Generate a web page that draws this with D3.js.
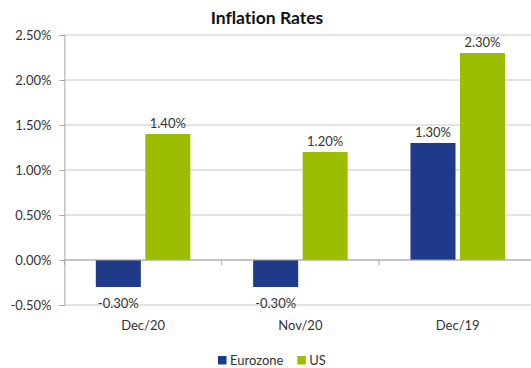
<!DOCTYPE html>
<html>
<head>
<meta charset="utf-8">
<script src="https://cdn.jsdelivr.net/npm/d3@7/dist/d3.min.js"></script>
<style>
  html, body { margin: 0; padding: 0; background: #fff; }
  svg { display: block; font-family: Lato, "Open Sans", sans-serif; font-variant-ligatures: none; font-feature-settings: "liga" 0, "dlig" 0; }
</style>
</head>
<body>
<svg id="chart" width="531" height="368"></svg>
<script>
// Inflation rates (percent) by month
const categories = ["Dec/20", "Nov/20", "Dec/19"];
const seriesNames = ["Eurozone", "US"];
const eurozone = [-0.30, -0.30, 1.30];
const us = [1.40, 1.20, 2.30];
const yTicks = [-0.5, 0, 0.5, 1.0, 1.5, 2.0, 2.5];
const colors = ["#1F3A89", "#9CBE00"];

const seriesValues = [eurozone, us];
const svg = d3.select("#chart");

const x0 = d3.scaleBand().domain(categories).range([64.4, 536.4]).paddingInner(0).paddingOuter(0);
const x1 = d3.scaleBand().domain(seriesNames).range([31.4, x0.bandwidth() - 31.4]).paddingInner(0.09);
const y = d3.scaleLinear().domain([-0.5, 2.5]).range([305, 35]);

const fmt = v => v.toFixed(2) + "%";

// Horizontal gridlines
svg.append("g").selectAll("line").data(yTicks).join("line")
  .attr("x1", 64.4).attr("x2", 536).attr("y1", d => y(d)).attr("y2", d => y(d))
  .attr("stroke", "#C8C8C8").attr("stroke-width", 1);

// Y axis
const yAxis = svg.append("g").attr("transform", "translate(64.4,0)")
  .call(d3.axisLeft(y).tickValues(yTicks).tickFormat(fmt).tickSize(5).tickPadding(8));
yAxis.select(".domain").attr("stroke", "#A6A6A6");
yAxis.selectAll(".tick line").attr("stroke", "#A6A6A6");
yAxis.selectAll("text").attr("font-size", 13).attr("fill", "#333").attr("font-family", "Lato, sans-serif");

// Bars
const groups = svg.append("g").selectAll("g").data(categories).join("g")
  .attr("transform", d => `translate(${x0(d)},0)`);

groups.selectAll("rect")
  .data((c, i) => seriesNames.map((s, j) => ({ s, v: seriesValues[j][i], j })))
  .join("rect")
  .attr("x", d => x1(d.s))
  .attr("width", x1.bandwidth())
  .attr("y", d => y(Math.max(0, d.v)))
  .attr("height", d => Math.abs(y(d.v) - y(0)))
  .attr("fill", d => colors[d.j]);

// Value labels
groups.selectAll("text.val")
  .data((c, i) => seriesNames.map((s, j) => ({ s, v: seriesValues[j][i], j })))
  .join("text")
  .attr("class", "val")
  .attr("x", d => x1(d.s) + x1.bandwidth() / 2)
  .attr("y", d => d.v >= 0 ? y(d.v) - 6 : 308)
  .attr("text-anchor", "middle")
  .attr("font-size", 13)
  .attr("fill", "#333")
  .text(d => fmt(d.v));

// X axis at zero
const xAxis = svg.append("g").attr("transform", `translate(0,${y(0)})`)
  .call(d3.axisBottom(x0).tickSize(5).tickFormat(""));
xAxis.select(".domain").attr("stroke", "#A6A6A6").attr("d", `M64.4,0H536`);
xAxis.selectAll(".tick").attr("transform", d => `translate(${x0(d)},0)`);
xAxis.selectAll(".tick line").attr("stroke", "#A6A6A6");

// Category labels
svg.append("g").selectAll("text").data(categories).join("text")
  .attr("x", d => x0(d) + x0.bandwidth() / 2)
  .attr("y", 330)
  .attr("text-anchor", "middle")
  .attr("font-size", 13)
  .attr("fill", "#333")
  .text(d => d);

// Title
svg.append("text")
  .attr("x", 267).attr("y", 24)
  .attr("text-anchor", "middle")
  .attr("font-size", 17.5).attr("font-weight", "bold")
  .attr("fill", "#111")
  .text("Inflation Rates");

// Legend
const legend = svg.append("g");
const legendItems = [{ name: "Eurozone", x: 218 }, { name: "US", x: 297.3 }];
legendItems.forEach((d, i) => {
  legend.append("rect").attr("x", d.x).attr("y", 356).attr("width", 8.5).attr("height", 8.5).attr("fill", colors[i]);
  legend.append("text").attr("x", d.x + 12).attr("y", 364.5).attr("font-size", 13).attr("fill", "#333").text(d.name);
});
</script>
</body>
</html>
